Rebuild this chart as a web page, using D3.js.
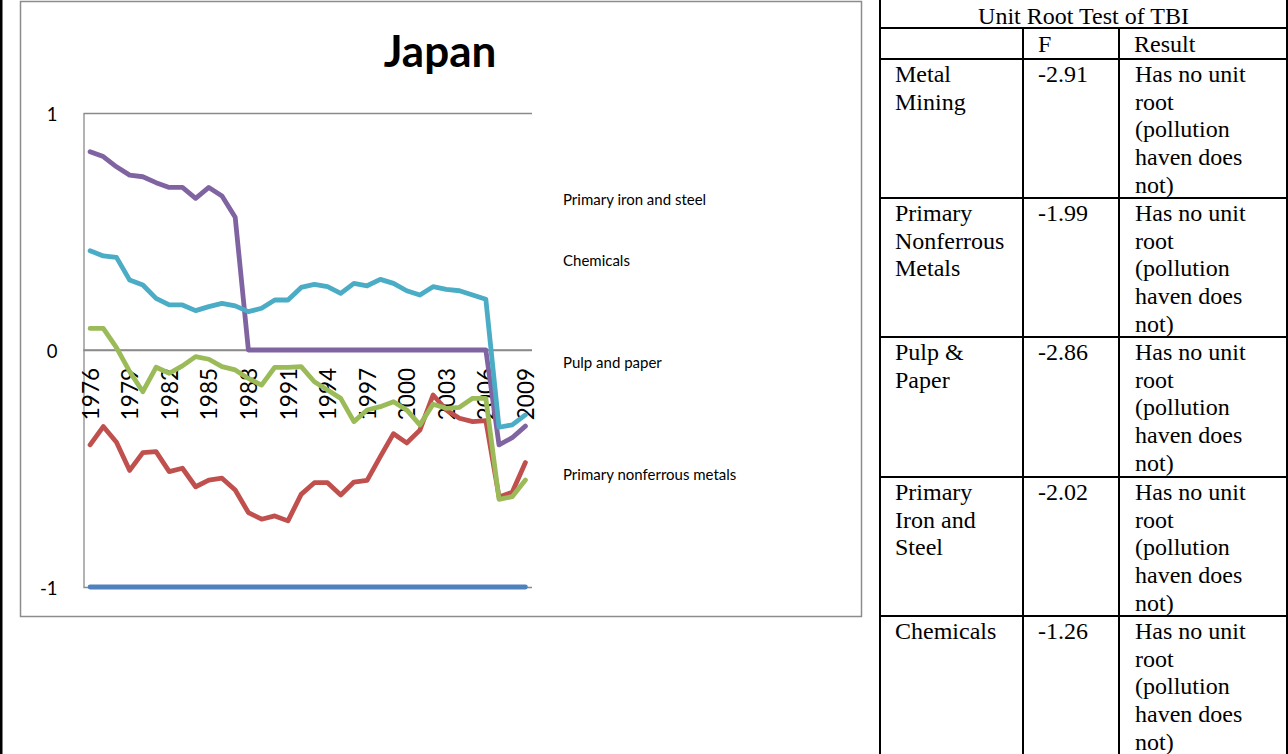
<!DOCTYPE html>
<html lang="en">
<head>
<meta charset="utf-8">
<title>Japan TBI</title>
<script src="https://d3js.org/d3.v7.min.js"></script>
<style>
  body { margin: 0; background: #fff; }
  .chartText { font-family: Lato, "Open Sans", sans-serif; fill: #000; }
  .tableText { font-family: "Liberation Serif", "Times New Roman", serif; font-size: 24px; fill: #000; }
</style>
</head>
<body>
<svg id="placeholder1"></svg>
<script>
// ---------------- data ----------------
var years = [1976, 1977, 1978, 1979, 1980, 1981, 1982, 1983, 1984, 1985, 1986, 1987,
             1988, 1989, 1990, 1991, 1992, 1993, 1994, 1995, 1996, 1997, 1998, 1999,
             2000, 2001, 2002, 2003, 2004, 2005, 2006, 2007, 2008, 2009]
var tickYears = [1976, 1979, 1982, 1985, 1988, 1991, 1994, 1997, 2000, 2003, 2006, 2009]
var yTicks = [-1, 0, 1]

var metalMining = [-1, -1, -1, -1, -1, -1, -1, -1, -1, -1, -1, -1,
                   -1, -1, -1, -1, -1, -1, -1, -1, -1, -1, -1, -1,
                   -1, -1, -1, -1, -1, -1, -1, -1, -1, -1]
var nonferrous = [-0.40, -0.323, -0.389, -0.508, -0.433, -0.429, -0.513, -0.499, -0.577, -0.549, -0.541, -0.591,
                  -0.686, -0.714, -0.70, -0.721, -0.609, -0.56, -0.56, -0.612, -0.557, -0.55, -0.45, -0.353,
                  -0.392, -0.338, -0.19, -0.253, -0.288, -0.302, -0.298, -0.62, -0.60, -0.475]
var pulpPaper = [0.091, 0.091, 0.01, -0.091, -0.176, -0.073, -0.098, -0.067, -0.028, -0.039, -0.07, -0.084,
                 -0.12, -0.148, -0.073, -0.073, -0.07, -0.134, -0.169, -0.204, -0.302, -0.253, -0.239, -0.218,
                 -0.253, -0.316, -0.229, -0.246, -0.242, -0.204, -0.204, -0.63, -0.619, -0.549]
var ironSteel = [0.837, 0.816, 0.773, 0.738, 0.731, 0.706, 0.686, 0.686, 0.64, 0.686, 0.65, 0.56,
                 0, 0, 0, 0, 0, 0, 0, 0, 0, 0, 0, 0,
                 0, 0, 0, 0, 0, 0, 0, -0.40, -0.37, -0.321]
var chemicals = [0.419, 0.397, 0.391, 0.295, 0.274, 0.218, 0.19, 0.19, 0.166, 0.183, 0.197, 0.186,
                 0.162, 0.176, 0.211, 0.211, 0.264, 0.277, 0.267, 0.239, 0.281, 0.271, 0.298, 0.281,
                 0.25, 0.232, 0.267, 0.256, 0.25, 0.232, 0.214, -0.326, -0.316, -0.274]

var legendLabels = ["Primary iron and steel", "Chemicals", "Pulp and paper", "Primary nonferrous metals"]

var tableTitle = "Unit Root Test of TBI"
var tableHead = ["", "F", "Result"]
var industries = ["Metal Mining", "Primary Nonferrous Metals", "Pulp & Paper", "Primary Iron and Steel", "Chemicals"]
var fValues = ["-2.91", "-1.99", "-2.86", "-2.02", "-1.26"]
var results = ["Has no unit root (pollution haven does not)", "Has no unit root (pollution haven does not)",
               "Has no unit root (pollution haven does not)", "Has no unit root (pollution haven does not)",
               "Has no unit root (pollution haven does not)"]

// ---------------- init ----------------
var blue = "#4F81BD", red = "#C0504D", green = "#9BBB59", purple = "#8064A2", cyan = "#4BACC6"
var gridGray = "#8a8a8a"

var wholeW = 1288, wholeH = 754
var plot = {left: 83.5, right: 532, top: 113, bottom: 587}

var svg = d3.select("#placeholder1").attr("width", wholeW).attr("height", wholeH)

var xScale = d3.scalePoint().domain(years).range([plot.left, plot.right]).padding(0.5)
var yScale = d3.scaleLinear().domain([-1, 1]).range([plot.bottom, plot.top])

// outer frames
svg.append("rect").attr("x", 0).attr("y", 0).attr("width", 2.5).attr("height", wholeH).attr("fill", "#000")
svg.append("rect").attr("x", 20.5).attr("y", 1.5).attr("width", 841).attr("height", 615)
   .attr("fill", "none").attr("stroke", "#8c8c8c").attr("stroke-width", 1.5)

// title
svg.append("text").attr("class", "chartText")
   .attr("x", 440).attr("y", 67).attr("text-anchor", "middle")
   .style("font-size", "44px").style("font-weight", "bold").text("Japan")

// y axis with gridlines
var yAxis = d3.axisLeft(yScale).tickValues(yTicks).tickSize(-(plot.right - plot.left))
              .tickSizeOuter(0).tickPadding(26).tickFormat(d3.format("d"))
var gy = svg.append("g").attr("transform", "translate(" + plot.left + ",0)").call(yAxis)
gy.selectAll("line").attr("stroke", gridGray).attr("stroke-width", 1.3)
gy.select(".domain").attr("stroke", gridGray).attr("stroke-width", 1.3)
gy.selectAll("text").attr("class", "chartText").attr("dy", "0.4em")
  .style("font-size", "18.5px").text(d => d < 0 ? "-" + Math.abs(d) : d)

// x axis at zero
var xAxis = d3.axisBottom(xScale).tickValues(tickYears).tickSize(0).tickSizeOuter(0)
var gx = svg.append("g").attr("transform", "translate(0," + yScale(0) + ")").call(xAxis)
gx.select(".domain").attr("d", "M" + plot.left + ",0H" + plot.right)
  .attr("stroke", gridGray).attr("stroke-width", 1.3)
gx.selectAll("text").attr("class", "chartText")
  .attr("transform", "rotate(-90)").attr("text-anchor", "end")
  .attr("x", -18).attr("y", 0).attr("dy", "0.36em")
  .style("font-size", "22.5px")

// lines
var line = d3.line().x((d, i) => xScale(years[i])).y(d => yScale(d))
var series = [
  {values: metalMining, color: blue},
  {values: nonferrous, color: red},
  {values: pulpPaper, color: green},
  {values: ironSteel, color: purple},
  {values: chemicals, color: cyan}
]
svg.selectAll("path.series").data(series).join("path")
   .attr("class", "series")
   .attr("d", d => line(d.values))
   .attr("fill", "none")
   .attr("stroke", d => d.color)
   .attr("stroke-width", 4.8)
   .attr("stroke-linejoin", "round")
   .attr("stroke-linecap", "round")

// legend (text only)
var legendY = [200, 261, 363, 475]
svg.selectAll("text.legend").data(legendLabels).join("text")
   .attr("class", "legend chartText")
   .attr("x", 563).attr("y", (d, i) => legendY[i]).attr("dy", "0.35em")
   .style("font-size", "15px").text(d => d)

// ---------------- table ----------------
var colX = [880, 1023, 1119, 1287]
var rowY = [0, 28, 59, 198, 337, 477, 616, 760]
var tbl = svg.append("g")

// horizontal lines
rowY.slice(1, 7).forEach(y => {
  tbl.append("line").attr("x1", colX[0]).attr("x2", colX[3]).attr("y1", y).attr("y2", y)
     .attr("stroke", "#000").attr("stroke-width", 2)
})
// vertical lines
tbl.append("line").attr("x1", colX[0]).attr("x2", colX[0]).attr("y1", 0).attr("y2", wholeH)
   .attr("stroke", "#000").attr("stroke-width", 2)
tbl.append("line").attr("x1", colX[3]).attr("x2", colX[3]).attr("y1", 0).attr("y2", wholeH)
   .attr("stroke", "#000").attr("stroke-width", 2)
;[colX[1], colX[2]].forEach(x => {
  tbl.append("line").attr("x1", x).attr("x2", x).attr("y1", rowY[1]).attr("y2", wholeH)
     .attr("stroke", "#000").attr("stroke-width", 2)
})

tbl.append("text").attr("class", "tableText")
   .attr("x", (colX[0] + colX[3]) / 2).attr("y", 23.5).attr("text-anchor", "middle").text(tableTitle)

tableHead.forEach((h, i) => {
  tbl.append("text").attr("class", "tableText")
     .attr("x", colX[i] + 15).attr("y", rowY[1] + 23.5).text(h)
})

function wrapText(x, y, str, maxW) {
  var t = tbl.append("text").attr("class", "tableText").attr("x", x).attr("y", y)
  var words = str.split(" "), lineNo = 0, cur = []
  var ts = t.append("tspan").attr("x", x).attr("y", y)
  words.forEach(w => {
    cur.push(w)
    ts.text(cur.join(" "))
    if (ts.node().getComputedTextLength() > maxW && cur.length > 1) {
      cur.pop()
      ts.text(cur.join(" "))
      cur = [w]
      lineNo++
      ts = t.append("tspan").attr("x", x).attr("y", y + lineNo * 27.7).text(w)
    }
  })
}

industries.forEach((name, i) => {
  var y = rowY[i + 2] + 23
  wrapText(colX[0] + 15, y, name, 115)
  wrapText(colX[1] + 15, y, fValues[i], 120)
  wrapText(colX[2] + 16, y, results[i], 128)
})
</script>
</body>
</html>
